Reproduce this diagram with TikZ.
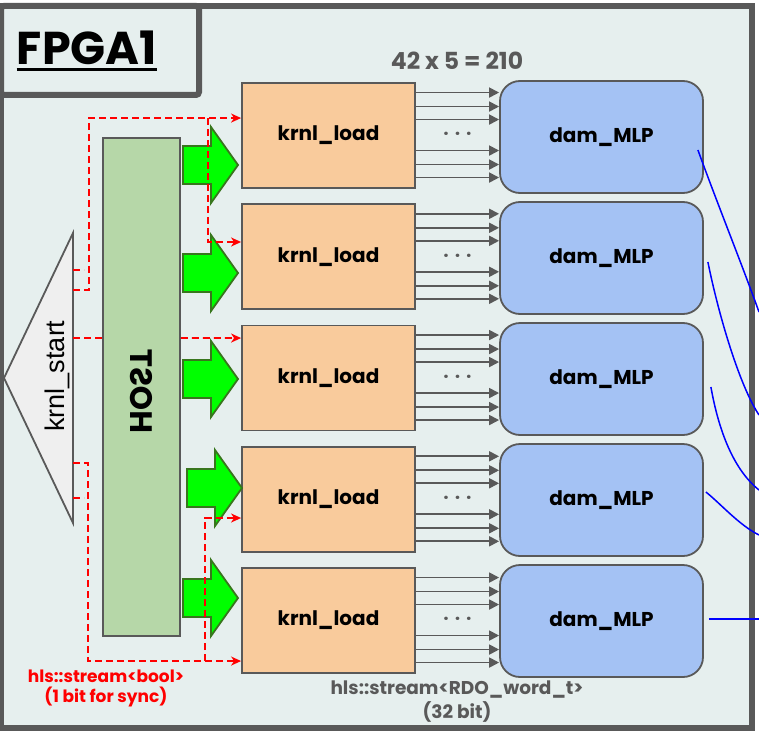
\documentclass[tikz,border=0pt]{standalone}
\usepackage{fontspec}
\setmainfont{Poppins}
\newfontfamily\arialf{Liberation Sans}
\usetikzlibrary{arrows.meta,calc}
\definecolor{bgc}{HTML}{E6EFEE}
\definecolor{edgec}{HTML}{595959}
\definecolor{hostc}{HTML}{B6D7A8}
\definecolor{loadc}{HTML}{F9CB9C}
\definecolor{mlpc}{HTML}{A4C2F4}
\definecolor{trigc}{HTML}{EFEFEF}
\definecolor{goc}{HTML}{00FF00}
\definecolor{godark}{HTML}{38761D}
\begin{document}
\begin{tikzpicture}[x=1pt,y=-1pt,
 load/.style={draw=edgec,line width=1.8pt,fill=loadc,minimum width=173pt,minimum height=105pt,font=\fontsize{20}{22}\selectfont\bfseries},
 mlp/.style={draw=edgec,line width=1.8pt,fill=mlpc,rounded corners=20pt,minimum width=203pt,minimum height=112pt,font=\fontsize{20}{22}\selectfont\bfseries},
 bus/.style={edgec,line width=1.8pt,-{Triangle[length=10pt,width=10pt]}},
 sync/.style={red,line width=1.6pt,dash pattern=on 7pt off 4pt},
 syncto/.style={sync,-{Stealth[length=10pt,width=9pt,inset=3pt]}},
 wire/.style={blue,line width=1.5pt},
 go/.style={draw=godark,line width=1.8pt,fill=goc}]
 \useasboundingbox (0,0) rectangle (759,730);
 \draw[edgec,line width=6pt,fill=bgc] (1,6) rectangle (752,728);
 \draw[edgec,line width=6pt,fill=bgc,rounded corners=3pt] (1,6) rectangle (199,95);
 \node[inner sep=0pt,font=\fontsize{46}{48}\selectfont\bfseries] (fpga) at (87,48) {FPGA1};
 \draw[line width=3.5pt] ($(fpga.base west)+(0,5)$) -- ($(fpga.base east)+(0,5)$);
 \node[draw=edgec,line width=1.8pt,fill=hostc,minimum width=77pt,minimum height=498pt] (host) at (141.5,387) {};
 \node[rotate=90,yscale=-1,font=\fontsize{31}{33}\selectfont\bfseries] (hostlbl) at (141,391) {HOST};
 \draw[draw=edgec,line width=1.8pt,fill=trigc] (73,233) -- (4,378) -- (73,523) -- cycle;
 \node[rotate=90,font=\arialf\fontsize{27}{30}\selectfont] (kstart) at (57,376) {krnl\_start};
 \foreach \i in {1,...,5}{
  \node[load] (ld\i) at (328.5,{14.3+121.25*\i}) {krnl\_load};
  \node[mlp] (mlp\i) at (601.5,{16+121*\i}) {dam\_MLP};
  \node[font=\fontsize{18}{20}\selectfont\bfseries,text=edgec] (dt\i) at ($(ld\i.east)!.5!(mlp\i.west)$) {·\hspace{6pt}·\hspace{6pt}·};
  \foreach \o in {-43,-29,-16,15,29,42}
   \draw[bus] ($(ld\i.east)+(0,\o)$) coordinate (b) -- (b -| mlp\i.west);
 }
 \foreach \x/\y in {183/165,183/273,183/379,187/488,183/598}
  \draw[go] (\x,\y-19) -- ++(28,0) -- ++(0,-19) -- ++(27,38) -- ++(-27,38) -- ++(0,-19) -- ++(-28,0) -- cycle;
 \coordinate (k1) at (73,290);
 \coordinate (k2) at (73,270);
 \coordinate (k3) at (73,338);
 \coordinate (k4) at (73,463);
 \coordinate (k5) at (73,498);
 \coordinate (s1) at ($(ld1.west)+(0,-17.5)$);
 \coordinate (s2) at ($(ld2.west)+(0,-14.8)$);
 \coordinate (s3) at ($(ld3.west)+(0,-40)$);
 \coordinate (s4) at ($(ld4.west)+(0,18.7)$);
 \coordinate (s5) at ($(ld5.west)+(0,40.5)$);
 \draw[syncto] (k1) -- ++(16,0) |- (s1);
 \draw[syncto] (208,0 |- s1) |- (s2);
 \draw[sync] (k2) -- ++(11,0);
 \draw[sync] (k3) -- (k3 -| host.west);
 \draw[syncto] (k3 -| host.east) -- (s3);
 \draw[syncto] (k4) -- ++(15,0) |- (s5);
 \draw[syncto] (205,0 |- s5) |- (s4);
 \draw[sync] (k5) -- ++(11,0);
 \coordinate (w1) at ($(mlp1.east)+(-6,13)$);
 \coordinate (w2) at ($(mlp2.east)+(4,4)$);
 \coordinate (w3) at ($(mlp3.east)+(7,8)$);
 \coordinate (w4) at ($(mlp4.east)+(2,-8)$);
 \coordinate (w5) at ($(mlp5.east)+(5,-2)$);
 \coordinate (e1) at (759,312);
 \coordinate (e2) at (759,415);
 \coordinate (e3) at (759,490);
 \coordinate (e4) at (759,535);
 \draw[wire] (w1) .. controls +(20,55) and +(-18,-50) .. (e1);
 \draw[wire] (w2) .. controls +(10,50) and +(-20,-30) .. (e2);
 \draw[wire] (w3) .. controls +(8,45) and +(-25,-20) .. (e3);
 \draw[wire] (w4) .. controls +(15,12) and +(-20,-10) .. (e4);
 \draw[wire] (w5) -- (w5 -| e4);
 \node[font=\fontsize{23.5}{25}\selectfont\bfseries,text=edgec] (total) at (457,61) {42 x 5 = 210};
 \node[font=\fontsize{18.5}{24}\selectfont\bfseries,text=edgec,align=center] (rdo) at (457,702) {hls::stream<RDO\_word\_t>\\(32 bit)};
 \node[font=\fontsize{17}{20}\selectfont\bfseries,text=red,align=center] (boolnote) at (106,688) {hls::stream<bool>\\(1 bit for sync)};
\end{tikzpicture}
\end{document}
